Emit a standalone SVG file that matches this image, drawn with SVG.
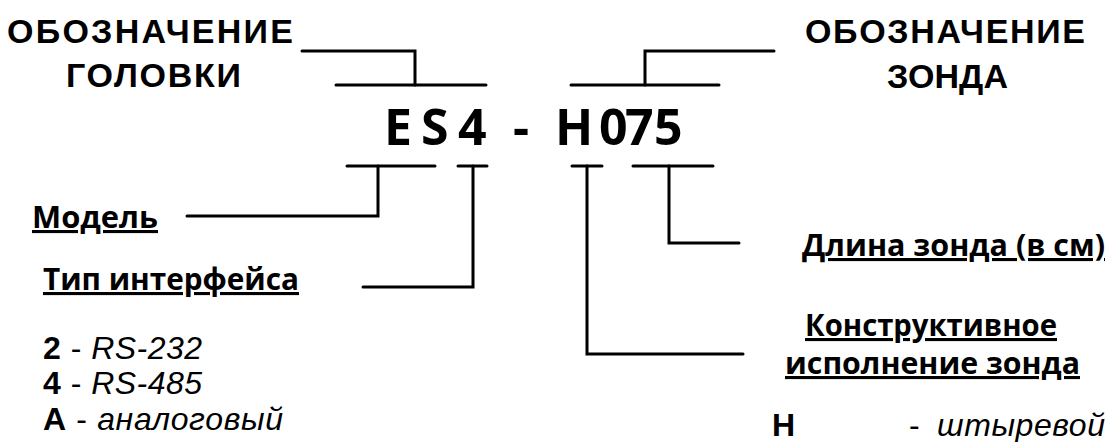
<svg xmlns="http://www.w3.org/2000/svg" width="1111" height="442" viewBox="0 0 1111 442">
<style>
.hd{font-family:"Liberation Sans",Arial,sans-serif;font-weight:bold;font-size:34px;fill:#000}
.lb{font-family:"Open Sans","Noto Sans",sans-serif;font-weight:bold;font-size:31px;fill:#000;text-decoration:underline}
.code{font-family:"Open Sans","Noto Sans",sans-serif;font-weight:bold;font-size:50px;fill:#000}
.it{font-family:"Liberation Sans",Arial,sans-serif;font-size:32px;fill:#000}
.b{font-weight:bold}
.i{font-style:italic}
.ln{fill:none;stroke:#000;stroke-width:3;stroke-linecap:round;stroke-linejoin:miter}
</style>
<rect width="1111" height="442" fill="#fff"/>
<g id="connectors" class="ln">
<polyline points="302,51 415,51 415,85"/>
<line x1="336" y1="85" x2="486" y2="85"/>
<polyline points="774,51 645,51 645,85"/>
<line x1="571" y1="85" x2="719" y2="85"/>
<line x1="347" y1="166" x2="435" y2="166"/>
<polyline points="378,166 378,216 187,216"/>
<line x1="458" y1="166" x2="487" y2="166"/>
<polyline points="473,166 473,287 363,287"/>
<line x1="572" y1="166" x2="602" y2="166"/>
<polyline points="587,166 587,354 743,354"/>
<line x1="633" y1="166" x2="713" y2="166"/>
<polyline points="669,166 669,243 739,243"/>
</g>
<g id="head-title">
<text class="hd" x="7" y="43" textLength="286">ОБОЗНАЧЕНИЕ</text>
<text class="hd" x="66" y="87" textLength="175">ГОЛОВКИ</text>
</g>
<g id="probe-title">
<text class="hd" x="805" y="43" textLength="280">ОБОЗНАЧЕНИЕ</text>
<text class="hd" x="887" y="88" textLength="121">ЗОНДА</text>
</g>
<g id="code">
<text class="code" y="145" x="384 410 421 447 458 490 513 530 555 590 599 625 654">E S 4 - H 075</text>
</g>
<g id="model">
<text class="lb" x="32" y="228" textLength="126" lengthAdjust="spacingAndGlyphs">Модель</text>
</g>
<g id="interface">
<text class="lb" x="43" y="290" textLength="256" lengthAdjust="spacingAndGlyphs">Тип интерфейса</text>
<text class="it" x="43" y="359" textLength="159"><tspan class="b">2</tspan> - <tspan class="i">RS-232</tspan></text>
<text class="it" x="43" y="394" textLength="159"><tspan class="b">4</tspan> - <tspan class="i">RS-485</tspan></text>
<text class="it" x="43" y="430" textLength="240"><tspan class="b">А</tspan> - <tspan class="i">аналоговый</tspan></text>
</g>
<g id="length">
<text class="lb" x="802" y="256" textLength="303" lengthAdjust="spacingAndGlyphs">Длина зонда (в см)</text>
</g>
<g id="construction">
<text class="lb" x="805" y="336" textLength="252" lengthAdjust="spacingAndGlyphs">Конструктивное</text>
<text class="lb" x="785" y="374" textLength="295" lengthAdjust="spacingAndGlyphs">исполнение зонда</text>
<text class="it" x="772" y="436"><tspan class="b">Н</tspan><tspan x="909">- </tspan><tspan class="i" x="937" textLength="168">штыревой</tspan></text>
</g>
</svg>
